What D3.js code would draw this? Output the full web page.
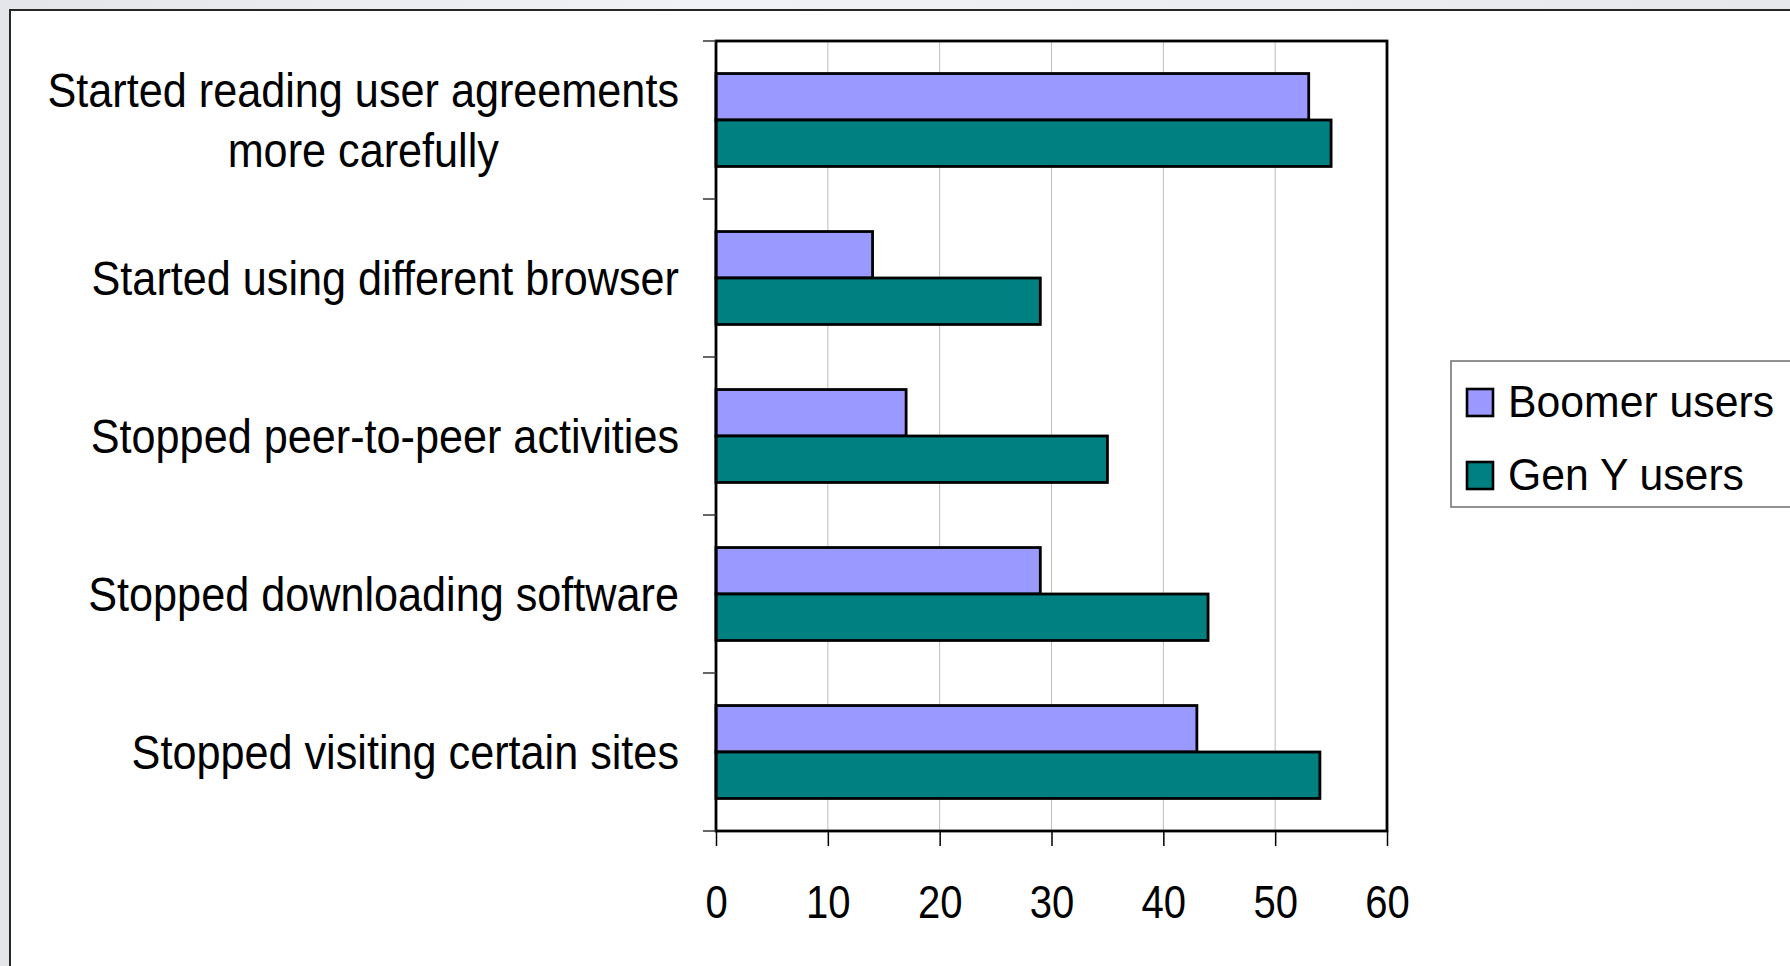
<!DOCTYPE html>
<html>
<head>
<meta charset="utf-8">
<script src="https://cdn.jsdelivr.net/npm/d3@7"></script>
<style>
  html, body { margin: 0; padding: 0; }
  body { width: 1790px; height: 966px; overflow: hidden; background: linear-gradient(90deg, #e4e6ea, #f1f2f5 40%, #e6e8ec); }
  svg { display: block; }
  text { font-family: "Liberation Sans", Arial, sans-serif; fill: #000; }
</style>
</head>
<body>
<div id="chart"></div>
<script>
(function() {
  var categories, series, boomer, genY, xTicks, colors, width, height, plot, svg, x, y, ySub, g, rows, legend, fontCat, fontTick, fontLeg;

  categories = [
    "Started reading user agreements\nmore carefully",
    "Started using different browser",
    "Stopped peer-to-peer activities",
    "Stopped downloading software",
    "Stopped visiting certain sites"
  ];

  series = ["Boomer users", "Gen Y users"];

  boomer = [53, 14, 17, 29, 43];

  genY = [55, 29, 35, 44, 54];

  xTicks = [0, 10, 20, 30, 40, 50, 60];

  colors = ["#9999ff", "#008080"];

  width = 1790;
  height = 966;
  plot = { left: 716, right: 1387, top: 41, bottom: 831 };

  fontCat = 48;
  fontTick = 46;
  fontLeg = 45;

  svg = d3.select("#chart").append("svg").attr("width", width).attr("height", height);

  // white frame of the slide object, runs off the right and bottom
  svg.append("rect").attr("x", 10).attr("y", 10).attr("width", width + 20).attr("height", height + 20)
    .style("fill", "#fff").style("stroke", "#262626").style("stroke-width", 2);

  x = d3.scaleLinear().domain([0, 60]).range([plot.left, plot.right]);

  y = d3.scaleBand().domain(categories).range([plot.top, plot.bottom]).padding(0);

  ySub = d3.scaleBand().domain(series).range([0, y.bandwidth()]).paddingInner(0).paddingOuter(0.7);

  g = svg.append("g");

  // vertical grid lines
  g.selectAll("line.grid").data(xTicks.slice(1, -1)).enter().append("line")
    .attr("class", "grid")
    .attr("x1", function(d) { return x(d); }).attr("x2", function(d) { return x(d); })
    .attr("y1", plot.top).attr("y2", plot.bottom)
    .style("stroke", "#bdbdbd").style("stroke-width", 1);

  // bars
  rows = g.selectAll("g.row").data(categories).enter().append("g")
    .attr("class", "row")
    .attr("transform", function(d) { return "translate(0," + y(d) + ")"; });

  rows.selectAll("rect").data(function(d, i) {
    return [
      { s: series[0], v: boomer[i], c: colors[0] },
      { s: series[1], v: genY[i], c: colors[1] }
    ];
  }).enter().append("rect")
    .attr("x", x(0))
    .attr("y", function(d) { return ySub(d.s); })
    .attr("width", function(d) { return x(d.v) - x(0); })
    .attr("height", ySub.bandwidth())
    .style("fill", function(d) { return d.c; })
    .style("stroke", "#000").style("stroke-width", 2.8);

  // plot border
  g.append("rect").attr("x", plot.left).attr("y", plot.top)
    .attr("width", plot.right - plot.left).attr("height", plot.bottom - plot.top)
    .style("fill", "none").style("stroke", "#000").style("stroke-width", 2.8);

  // category tick marks on the left
  g.selectAll("line.ytick").data(d3.range(categories.length + 1)).enter().append("line")
    .attr("class", "ytick")
    .attr("x1", plot.left - 13).attr("x2", plot.left)
    .attr("y1", function(i) { return plot.top + i * y.step(); })
    .attr("y2", function(i) { return plot.top + i * y.step(); })
    .style("stroke", "#333").style("stroke-width", 1.5);

  // x axis
  var xAxis = g.append("g").attr("transform", "translate(0," + plot.bottom + ")")
    .call(d3.axisBottom(x).tickValues(xTicks).tickSize(15).tickSizeOuter(0));
  xAxis.select(".domain").remove();
  xAxis.selectAll(".tick line").style("stroke", "#000").style("stroke-width", 1.5);
  xAxis.selectAll(".tick text")
    .attr("y", 0).attr("dy", 0)
    .attr("transform", "translate(0,87) scale(0.87,1)")
    .style("font-size", fontTick + "px")
    .style("font-family", "'Liberation Sans', Arial, sans-serif")
    .style("fill", "#000");

  // category labels, right aligned, multi-line centred
  categories.forEach(function(c) {
    var lines = c.split("\n"), n = lines.length, mid = y(c) + y.bandwidth() / 2, lab, maxW = 0, texts = [];
    lab = svg.append("g")
      .attr("transform", "translate(679," + (mid + 17 - (n - 1) / 2 * 61) + ") scale(0.9,1)");
    lines.forEach(function(l, i) {
      var t = lab.append("text").attr("y", i * 61).style("font-size", fontCat + "px").text(l);
      maxW = Math.max(maxW, t.node().getComputedTextLength());
      texts.push(t);
    });
    texts.forEach(function(t) {
      t.attr("x", -maxW / 2).attr("text-anchor", "middle");
    });
  });

  // legend
  legend = svg.append("g");
  legend.append("rect").attr("x", 1451).attr("y", 361).attr("width", 400).attr("height", 146)
    .style("fill", "#fff").style("stroke", "#6e6e6e").style("stroke-width", 1.5);

  legend.selectAll("g.item").data(series).enter().append("g")
    .attr("class", "item")
    .attr("transform", function(d, i) { return "translate(0," + (417 + i * 73) + ")"; })
    .each(function(d, i) {
      var it = d3.select(this);
      it.append("rect").attr("x", 1467).attr("y", -28).attr("width", 26).attr("height", 27)
        .style("fill", colors[i]).style("stroke", "#000").style("stroke-width", 2.6);
      it.append("text").attr("transform", "translate(1508,0) scale(0.95,1)")
        .style("font-size", fontLeg + "px").text(d);
    });

}).call(this);
</script>
</body>
</html>
